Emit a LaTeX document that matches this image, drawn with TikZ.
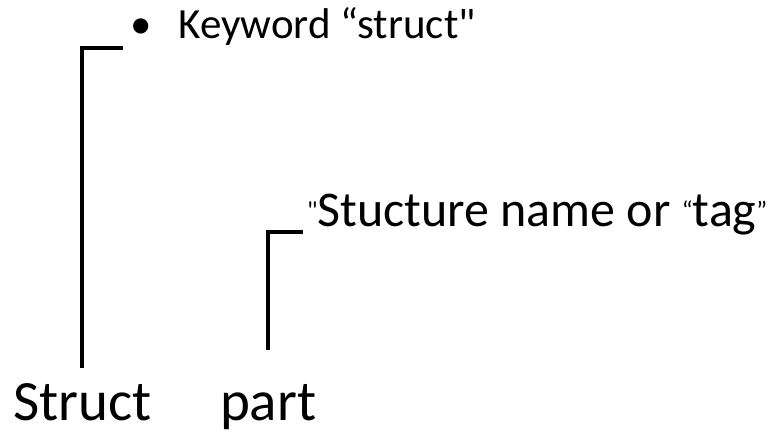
\documentclass[tikz,border=0pt]{standalone}
\usepackage{fontspec}
\setmainfont{Carlito}
\usepackage{tikz}
\tikzset{
    bracket/.style={draw=black, line width=3.5bp, line cap=butt},
    label/.style={inner sep=0pt, outer sep=0pt, anchor=base west, text=black},
    big/.style={font=\fontsize{57bp}{60bp}\selectfont},
    mid/.style={font=\fontsize{50bp}{54bp}\selectfont},
    small/.style={font=\fontsize{43bp}{46bp}\selectfont}
}
\newcommand{\tinyq}[1]{\raisebox{7bp}{\fontsize{26bp}{28bp}\selectfont #1}}

\begin{document}
\begin{tikzpicture}[x=1bp, y=-1bp]
\fill[white] (0,0) rectangle (780,434);
\useasboundingbox (0,0) rectangle (780,434);
\node[label, big] (struct) at (13,420) {Struct};
\node[label, big] (part) at (220,420) {part};
\node[label, small] (keyword) at (130,39) {\textbullet\hspace{27bp}Keyword “struct\textquotedbl};
\node[label, mid] (tag) at (307,227) {\tinyq{\textquotedbl}Stucture name or \tinyq{“}tag\tinyq{”}};
\coordinate (kwfoot) at (123,48);
\coordinate (tagfoot) at (303,232);
\draw[style={bracket}, shorten <=15bp]
  (struct.north) |- (kwfoot);
\draw[style={bracket}, shorten <=34bp]
  (part.north) |- (tagfoot);
\end{tikzpicture}
\end{document}
